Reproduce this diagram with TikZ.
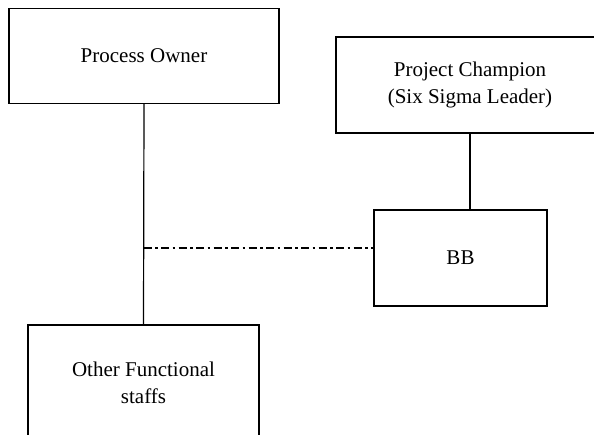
\documentclass[tikz,border=0pt]{standalone}
\usepackage{fontspec}
\setmainfont{Liberation Serif}

\begin{document}
\begin{tikzpicture}
	[
		x=1pt, y=-1pt,
		role/.style={draw, line width=1.2pt, align=center, inner sep=0pt, font=\fontsize{21}{27}\selectfont},
		link/.style={line width=1.2pt},
		informal/.style={line width=2pt, dash pattern=on 8pt off 3.5pt on 2.5pt off 3.5pt}
	]

	\useasboundingbox (0,0) rectangle (594,434);

		\path (144,56) node
		[role, minimum width=270pt, minimum height=95pt]
		(owner)
		{Process Owner};

		\path (470,85) node
		[role, minimum width=268pt, minimum height=96pt]
		(champion)
		{Project Champion\\(Six Sigma Leader)};

		\path (460.5,258) node
		[role, minimum width=173pt, minimum height=96pt]
		(bb)
		{BB};

		\path (143.5,382.5) node
		[role, minimum width=231pt, minimum height=115pt]
		(staffs)
		{Other Functional\\staffs};

	\coordinate
	[]
		(junction) at (143.5,248);

		\path
		[link]
		(owner.south)       edge    (staffs.north)
		(champion.south)    edge    (champion.south |- bb.north);

		\path
		[informal]
		(junction)          edge    (bb.west |- junction);


\end{tikzpicture}
\end{document}
